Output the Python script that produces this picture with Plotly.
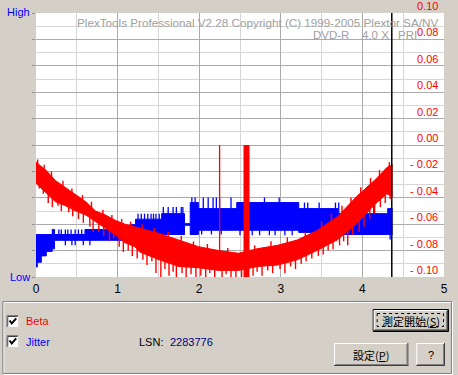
import plotly.graph_objects as go
import numpy as np

# ---------------- data ----------------
# Beta solid core (GB, upper, lower)
beta_x  = [0.00, 0.12, 0.24, 0.36, 0.49, 0.61, 0.73, 0.85, 0.97, 1.09, 1.21, 1.27, 1.51, 1.75,
           1.99, 2.24, 2.48, 2.72, 2.96, 3.20, 3.44, 3.69, 3.93, 4.17, 4.30, 4.37]
beta_hi = [-0.013, -0.019, -0.027, -0.032, -0.038, -0.043, -0.050, -0.053, -0.057, -0.060, -0.062,
           -0.063, -0.067, -0.072, -0.077, -0.080, -0.082, -0.0785, -0.076, -0.072, -0.065, -0.0545,
           -0.039, -0.0255, -0.017, -0.015]
beta_lo = [-0.029, -0.036, -0.043, -0.046, -0.050, -0.053, -0.058, -0.063, -0.068, -0.074, -0.077,
           -0.081, -0.087, -0.092, -0.093, -0.095, -0.095, -0.092, -0.091, -0.087, -0.080, -0.072,
           -0.0595, -0.044, -0.037, -0.039]
# individual beta spikes beyond the core: position, from, to
beta_spike_x = [0.04, 0.09, 0.15, 0.20, 0.27, 0.31, 0.40, 0.45, 0.52, 0.58, 0.66, 0.70, 0.77, 0.83,
                0.90, 0.95, 1.02, 1.07, 1.13, 1.18, 1.24, 1.31, 1.36, 1.42, 1.47, 1.53, 1.58, 1.63,
                1.68, 1.72, 1.79, 1.84, 1.90, 1.96, 2.02, 2.08, 2.13, 2.19, 2.28, 2.33, 2.39, 2.45,
                2.52, 2.66, 2.71, 2.77, 2.84, 2.90, 2.99, 3.05, 3.12, 3.18, 3.25, 3.31, 3.38, 3.46,
                3.52, 3.58, 3.64, 3.72, 3.77, 3.82, 3.88, 3.96, 4.02, 4.09, 4.15, 4.22, 4.28, 4.34,
                0.02, 0.10, 0.19, 0.33, 0.44, 0.57, 0.68, 0.82, 0.93, 1.05, 1.16, 1.30, 1.45, 1.62,
                1.78, 1.93, 2.10, 2.35, 2.68, 2.88, 3.08, 3.30, 3.50, 3.62, 3.75, 3.86, 3.98, 4.10,
                4.21, 4.33]
beta_spike_from = [-0.027, -0.032, -0.036, -0.038, -0.041, -0.042, -0.045, -0.047, -0.049, -0.050,
                   -0.053, -0.055, -0.058, -0.060, -0.062, -0.064, -0.066, -0.070, -0.072, -0.074,
                   -0.076, -0.078, -0.080, -0.082, -0.083, -0.084, -0.085, -0.086, -0.087, -0.088,
                   -0.089, -0.089, -0.090, -0.090, -0.091, -0.091, -0.092, -0.092, -0.093, -0.093,
                   -0.093, -0.093, -0.093, -0.092, -0.090, -0.090, -0.090, -0.089, -0.088, -0.087,
                   -0.086, -0.085, -0.083, -0.081, -0.079, -0.076, -0.074, -0.072, -0.070, -0.067,
                   -0.064, -0.061, -0.058, -0.054, -0.050, -0.046, -0.042, -0.038, -0.034, -0.033,
                   -0.016, -0.020, -0.026, -0.033, -0.038, -0.043, -0.049, -0.054, -0.058, -0.061,
                   -0.063, -0.065, -0.068, -0.071, -0.074, -0.078, -0.080, -0.083, -0.081, -0.078,
                   -0.076, -0.071, -0.064, -0.058, -0.053, -0.046, -0.039, -0.031, -0.025, -0.018]
beta_spike_to = [-0.033, -0.037, -0.044, -0.047, -0.046, -0.050, -0.051, -0.054, -0.056, -0.059,
                 -0.062, -0.066, -0.066, -0.069, -0.073, -0.071, -0.077, -0.081, -0.080, -0.084,
                 -0.086, -0.087, -0.091, -0.088, -0.097, -0.100, -0.094, -0.099, -0.096, -0.100,
                 -0.097, -0.100, -0.098, -0.100, -0.099, -0.100, -0.097, -0.100, -0.100, -0.098,
                 -0.100, -0.100, -0.100, -0.099, -0.096, -0.099, -0.095, -0.097, -0.094, -0.097,
                 -0.092, -0.094, -0.090, -0.088, -0.086, -0.084, -0.083, -0.080, -0.079, -0.076,
                 -0.073, -0.076, -0.068, -0.066, -0.062, -0.056, -0.052, -0.047, -0.044, -0.041,
                 -0.011, -0.015, -0.020, -0.027, -0.033, -0.038, -0.043, -0.049, -0.053, -0.056,
                 -0.058, -0.060, -0.063, -0.066, -0.069, -0.073, -0.075, -0.078, -0.076, -0.073,
                 -0.070, -0.066, -0.058, -0.052, -0.046, -0.040, -0.032, -0.025, -0.019, -0.013]
# spike/burst events
beta_burst_x = [2.25, 2.58]
beta_burst_top = [0.000, 0.000]
beta_burst_bottom = [-0.086, -0.100]
end_gb = 4.36

# Jitter band (0 = Low, 100 = High), step segments
jit_x  = [0.00, 0.016, 0.065, 0.126, 0.199, 0.227, 0.60, 1.15, 1.22, 1.54, 1.82, 1.89, 1.99, 2.46, 3.22, 3.70, 4.31, 4.37]
jit_hi = [16.1, 16.1, 16.1, 16.1, 18.0, 16.1, 18.0, 19.8, 21.9, 24.0, 20.2, 28.2, 25.9, 28.2, 25.9, 24.0, 25.9, 25.9]
jit_lo = [3.8, 5.6, 8.0, 9.7, 10.7, 13.9, 13.9, 13.9, 16.1, 16.1, 19.6, 16.1, 17.7, 17.7, 16.9, 16.1, 16.1, 16.1]
jit_up_x   = [0.28, 0.31, 0.36, 0.39, 0.43, 0.48, 0.52, 0.56,
              1.25, 1.29, 1.33, 1.37, 1.41, 1.44, 1.47, 1.51,
              1.56, 1.62, 1.68, 1.72, 1.78, 1.80, 1.91, 1.95,
              2.05, 2.11, 2.17, 2.21, 2.25, 2.39, 2.80, 2.98,
              3.29, 3.33, 3.47, 3.67, 3.71, 3.88, 4.04, 4.14]
jit_up_y   = [18.0, 18.0, 18.0, 18.0, 18.0, 18.0, 18.0, 18.0,
              24.0, 24.0, 24.0, 24.0, 24.0, 24.0, 24.0, 24.0,
              26.5, 26.5, 26.5, 26.5, 26.5, 26.5, 30.1, 30.1,
              30.1, 30.1, 30.1, 30.1, 30.1, 30.1, 30.1, 30.1,
              28.2, 28.2, 28.2, 28.2, 28.2, 28.2, 28.2, 28.2]
jit_dn_x = [0.36, 0.44, 0.48, 0.58, 0.66, 2.03, 2.15, 2.27, 2.50, 2.56, 2.65, 2.74, 2.86, 2.93, 3.05, 3.14, 4.34]
jit_dn_y = [12.0, 12.0, 12.0, 12.0, 12.0, 16.1, 16.1, 16.1, 15.8, 15.8, 15.8, 15.8, 15.8, 15.8, 15.8, 15.8, 14.2]

x_ticks = [0, 1, 2, 3, 4, 5]
beta_ticks = [0.10, 0.08, 0.06, 0.04, 0.02, 0.00, -0.02, -0.04, -0.06, -0.08, -0.10]
header1 = "PlexTools Professional V2.28 Copyright (C) 1999-2005 Plextor SA/NV"
header2 = ["DVD-R", "4.0 X", "PRI"]
lsn = "2283776"

# ---------------- geometry helpers ----------------
W, H = 458, 375
L, R, T, B = 36, 10, 13, 98
PW, PH = W - L - R, H - T - B
def px(X): return (X - L) / PW
def py(Y): return (H - B - Y) / PH

BG = "#D4D0C8"
RED = "#FF0000"
BLUE = "#0000FF"
FONT = "Liberation Sans"
CJK = "Noto Sans CJK JP"

fig = go.Figure()

# Jitter band
fig.add_trace(go.Scatter(x=jit_x, y=jit_lo, mode="lines", line=dict(color=BLUE, width=1, shape="hv"),
                         yaxis="y", hoverinfo="skip", showlegend=False))
fig.add_trace(go.Scatter(x=jit_x, y=jit_hi, mode="lines", line=dict(color=BLUE, width=1, shape="hv"),
                         fill="tonexty", fillcolor=BLUE, yaxis="y", hoverinfo="skip", showlegend=False))
def step_lookup(xs, arr, x):
    i = int(np.searchsorted(np.array(xs), x, side="right")) - 1
    return arr[max(i, 0)]
sx, sy = [], []
for xv, yv in zip(jit_up_x, jit_up_y):
    sx += [xv, xv, None]; sy += [step_lookup(jit_x, jit_hi, xv), yv, None]
for xv, yv in zip(jit_dn_x, jit_dn_y):
    sx += [xv, xv, None]; sy += [step_lookup(jit_x, jit_lo, xv), yv, None]
fig.add_trace(go.Scatter(x=sx, y=sy, mode="lines", line=dict(color=BLUE, width=1.3),
                         yaxis="y", hoverinfo="skip", showlegend=False))

# Beta band
fig.add_trace(go.Scatter(x=beta_x, y=beta_lo, mode="lines", line=dict(color=RED, width=1),
                         yaxis="y2", hoverinfo="skip", showlegend=False))
fig.add_trace(go.Scatter(x=beta_x, y=beta_hi, mode="lines", line=dict(color=RED, width=1),
                         fill="tonexty", fillcolor=RED, yaxis="y2", hoverinfo="skip", showlegend=False))
bx, by = [], []
for xv, a, b in zip(beta_spike_x, beta_spike_from, beta_spike_to):
    bx += [xv, xv, None]; by += [a, b, None]
fig.add_trace(go.Scatter(x=bx, y=by, mode="lines", line=dict(color=RED, width=1.4),
                         yaxis="y2", hoverinfo="skip", showlegend=False))
widths = [1.3, 6]
for xv, t, b, w in zip(beta_burst_x, beta_burst_top, beta_burst_bottom, widths):
    fig.add_trace(go.Scatter(x=[xv, xv], y=[t, b], mode="lines", line=dict(color=RED, width=w),
                             yaxis="y2", hoverinfo="skip", showlegend=False))
# end marker
fig.add_trace(go.Scatter(x=[end_gb, end_gb], y=[-0.1, 0.1], mode="lines", line=dict(color="black", width=1.5),
                         yaxis="y2", hoverinfo="skip", showlegend=False, cliponaxis=False))

ann = []
ann.append(dict(x=px(443), y=py(22.2), xref="paper", yref="paper", text=header1, showarrow=False,
                xanchor="right", yanchor="middle", borderpad=0,
                font=dict(family=FONT, size=11.7, color="#A0A0A0")))
for txt, X in zip(header2, [315, 364, 401]):
    ann.append(dict(x=px(X), y=py(34.8), xref="paper", yref="paper", text=txt, showarrow=False,
                    xanchor="left", yanchor="middle", borderpad=0,
                    font=dict(family=FONT, size=11.5, color="#A0A0A0")))
# beta labels
for v in beta_ticks:
    txt = f"{abs(v):.2f}" if v >= 0 else f"- {abs(v):.2f}"
    ann.append(dict(x=px(443), y=v, xref="paper", yref="y2", text=txt, showarrow=False,
                    xanchor="right", yanchor="bottom", font=dict(family=FONT, size=11, color=RED),
                    borderpad=0))
ann.append(dict(x=px(32), y=py(12.5), xref="paper", yref="paper", text="High", showarrow=False,
                xanchor="right", yanchor="middle", font=dict(family=FONT, size=11, color=BLUE)))
ann.append(dict(x=px(32), y=py(276.5), xref="paper", yref="paper", text="Low", showarrow=False,
                xanchor="right", yanchor="middle", font=dict(family=FONT, size=11, color=BLUE)))

# bottom panel texts
def label(X, Y, txt, color, size=11, family=FONT, anchor="left"):
    ann.append(dict(x=px(X), y=py(Y), xref="paper", yref="paper", text=txt, showarrow=False,
                    xanchor=anchor, yanchor="middle", font=dict(family=family, size=size, color=color)))
label(24, 320.5, "Beta", RED)
label(24, 341.5, "Jitter", BLUE)
label(138, 341.5, "LSN:", "black")
label(169, 341.5, lsn, "#000080")
label(414.7, 320.5, "測定開始(<u>S</u>)", "black", size=11, family=CJK, anchor="center")
label(374.5, 354.5, "設定(<u>P</u>)", "black", size=11, family=CJK, anchor="center")
label(434.5, 354.5, "?", "black", size=11, anchor="center")

shapes = []
def rect(x0, y0, x1, y1, fill=None, line=None, lw=1, dash=None):
    d = dict(type="rect", xref="paper", yref="paper", x0=px(x0), x1=px(x1), y0=py(y0), y1=py(y1),
             layer="above", line=dict(width=lw if line else 0, color=line or "rgba(0,0,0,0)"))
    if dash: d["line"]["dash"] = dash
    if fill: d["fillcolor"] = fill
    shapes.append(d)
def line(x0, y0, x1, y1, color, lw=1):
    shapes.append(dict(type="line", xref="paper", yref="paper", x0=px(x0), x1=px(x1), y0=py(y0), y1=py(y1),
                       layer="above", line=dict(color=color, width=lw)))

# group box (etched)
rect(3.5, 302.5, 456.5, 374.5, line="white")
rect(2.5, 301.5, 455.5, 373.5, line="#808080")

# checkboxes
for Y in (315, 335):
    rect(6, Y, 19, Y + 13, fill="white")
    line(6.5, Y + 0.5, 18.5, Y + 0.5, "#808080"); line(6.5, Y + 0.5, 6.5, Y + 12.5, "#808080")
    line(7.5, Y + 1.5, 17.5, Y + 1.5, "#404040"); line(7.5, Y + 1.5, 7.5, Y + 11.5, "#404040")
    line(6.5, Y + 12.5, 18.5, Y + 12.5, BG); line(18.5, Y + 0.5, 18.5, Y + 12.5, BG)
    shapes.append(dict(type="path", xref="paper", yref="paper", layer="above",
                       path=f"M {px(9.3)} {py(Y+5.5)} L {px(11.5)} {py(Y+8.5)} L {px(16)} {py(Y+3.3)}",
                       line=dict(color="black", width=2)))

def button(x0, y0, x1, y1, default=False):
    rect(x0, y0, x1, y1, fill=BG)
    if default:
        rect(x0 + 0.5, y0 + 0.5, x1 - 0.5, y1 - 0.5, line="black")
        x0 += 1; y0 += 1; x1 -= 1; y1 -= 1
    line(x0 + 0.5, y0 + 0.5, x1 - 1, y0 + 0.5, "white")
    line(x0 + 0.5, y0 + 0.5, x0 + 0.5, y1 - 1, "white")
    line(x0, y1 - 0.5, x1, y1 - 0.5, "#404040")
    line(x1 - 0.5, y0, x1 - 0.5, y1, "#404040")
    line(x0 + 1, y1 - 1.5, x1 - 1, y1 - 1.5, "#808080")
    line(x1 - 1.5, y0 + 1, x1 - 1.5, y1 - 1, "#808080")
    if default:
        rect(x0 + 3.5, y0 + 3.5, x1 - 4.5, y1 - 4.5, line="black", dash="dot")

button(376, 309, 453, 332, default=True)
button(337, 343, 412, 366)
button(420, 343, 449, 366)

fig.update_layout(
    width=W, height=H, margin=dict(l=L, r=R, t=T, b=B, pad=0),
    paper_bgcolor=BG, plot_bgcolor="white",
    showlegend=False, annotations=ann, shapes=shapes,
    xaxis=dict(range=[0, 5], tickvals=x_ticks, ticktext=[str(v) for v in x_ticks],
               showgrid=True, gridcolor="#ABABAB", gridwidth=1, zeroline=False, showline=False,
               ticks="", tickfont=dict(family=FONT, size=12, color="black"), ticklabelstandoff=3,
               minor=dict(dtick=0.5, showgrid=True, gridcolor="#D6D6D6", gridwidth=1, ticks=""),
               fixedrange=True),
    yaxis=dict(range=[0, 100], dtick=10, showgrid=True, gridcolor="#ABABAB", gridwidth=1,
               zeroline=False, showline=False, showticklabels=False, ticks="outside", ticklen=3,
               tickcolor="#909090", minor=dict(dtick=5, showgrid=True, gridcolor="#D6D6D6", ticks=""),
               fixedrange=True),
    yaxis2=dict(range=[-0.1, 0.1], overlaying="y", side="right", showgrid=False, zeroline=False,
                showticklabels=False, ticks="", showline=False, fixedrange=True),
)

fig.write_html("out.html", config={"displayModeBar": False},
               post_script="document.body.style.margin='0';document.body.style.padding='0';document.body.style.overflow='hidden';")
